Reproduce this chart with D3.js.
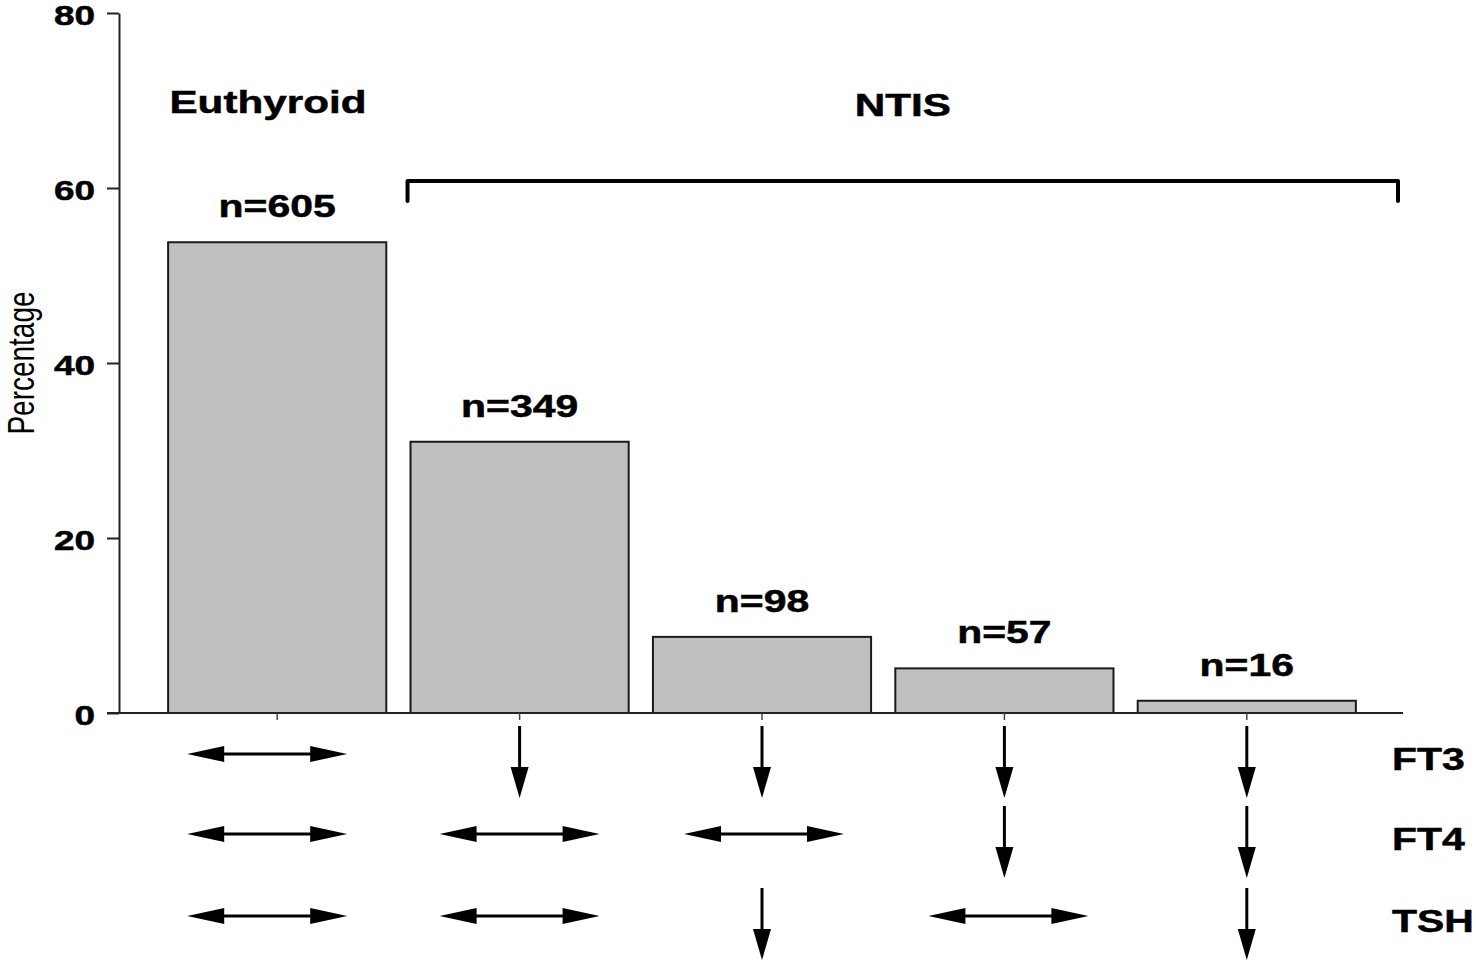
<!DOCTYPE html>
<html>
<head>
<meta charset="utf-8">
<script src="https://cdn.jsdelivr.net/npm/d3@7"></script>
<style>
  body { margin: 0; background: #fff; }
  svg { display: block; }
  text { font-family: "Liberation Sans", Arial, sans-serif; fill: #000; }
  text.heavy { stroke: #000; stroke-width: 0.5px; }
</style>
</head>
<body>
<svg id="chart" width="1476" height="960"></svg>
<script>
// data
const groups = ["Euthyroid", "NTIS a", "NTIS b", "NTIS c", "NTIS d"];
const counts = [605, 349, 98, 57, 16];
const percents = [53.8, 31.0, 8.7, 5.1, 1.4];
const yTicks = [0, 20, 40, 60, 80];
const hormones = ["FT3", "FT4", "TSH"];
// "n" = normal (double arrow), "d" = decreased (down arrow)
const ft3State = ["n", "d", "d", "d", "d"];
const ft4State = ["n", "n", "n", "d", "d"];
const tshState = ["n", "n", "d", "n", "d"];

const SX = 1.32;   // the picture is stretched sideways, text too

const svg = d3.select("#chart");

const x = d3.scaleBand().domain(groups).range([156, 1368])
	.paddingInner(0.1).paddingOuter(0.05);
const y = d3.scaleLinear().domain([0, 80]).range([713, 13]);

//----------------------------------- bars
svg.append("g").selectAll("rect")
	.data(groups)
	.join("rect")
	.attr("x", d => x(d))
	.attr("y", (d, i) => y(percents[i]))
	.attr("width", x.bandwidth())
	.attr("height", (d, i) => y(0) - y(percents[i]))
	.attr("fill", "#c0c0c0")
	.attr("stroke", "#1a1a1a")
	.attr("stroke-width", 2);

//----------------------------------- y axis
const yAxis = svg.append("g")
	.attr("transform", "translate(119,0)")
	.call(d3.axisLeft(y).tickValues(yTicks).tickSize(12).tickSizeOuter(0).tickPadding(12));
yAxis.select(".domain").attr("stroke", "#222").attr("stroke-width", 2);
yAxis.selectAll(".tick line").attr("stroke", "#222").attr("stroke-width", 2);
yAxis.selectAll(".tick text")
	.attr("x", null).attr("dy", "0.42em")
	.attr("class", "heavy")
	.attr("transform", "translate(-24,0) scale(" + SX + ",1)")
	.style("font-size", "28px").style("font-weight", "bold")
	.style("font-family", "'Liberation Sans', Arial, sans-serif");

svg.append("text")
	.attr("transform", "translate(34," + y(40) + ") rotate(-90) scale(1," + SX + ")")
	.attr("text-anchor", "middle")
	.style("font-size", "28px")
	.text("Percentage");

//----------------------------------- x axis (line + small ticks at bar centres)
svg.append("line")
	.attr("x1", 107).attr("x2", 1403)
	.attr("y1", y(0)).attr("y2", y(0))
	.attr("stroke", "#222").attr("stroke-width", 2);

svg.append("g").selectAll("line")
	.data(groups)
	.join("line")
	.attr("x1", d => x(d) + x.bandwidth() / 2)
	.attr("x2", d => x(d) + x.bandwidth() / 2)
	.attr("y1", y(0)).attr("y2", y(0) + 7)
	.attr("stroke", "#444").attr("stroke-width", 1.5);

//----------------------------------- n= labels
svg.append("g").selectAll("text")
	.data(groups)
	.join("text")
	.attr("class", "heavy")
	.attr("transform", (d, i) => "translate(" + (x(d) + x.bandwidth() / 2) + "," + (y(percents[i]) - 25) + ") scale(" + SX + ",1)")
	.attr("text-anchor", "middle")
	.style("font-size", "31px").style("font-weight", "bold")
	.text((d, i) => "n=" + counts[i]);

//----------------------------------- group headings + bracket
svg.append("text")
	.attr("class", "heavy")
	.attr("transform", "translate(268,113) scale(" + SX + ",1)")
	.attr("text-anchor", "middle")
	.style("font-size", "32px").style("font-weight", "bold")
	.text("Euthyroid");

const brL = x(groups[1]) - 3, brR = 1398;
svg.append("path")
	.attr("d", "M" + brL + ",201 V181 H" + brR + " V201")
	.attr("fill", "none")
	.attr("stroke", "#000").attr("stroke-width", 4)
	.attr("stroke-linecap", "round").attr("stroke-linejoin", "round");

svg.append("text")
	.attr("class", "heavy")
	.attr("transform", "translate(" + ((brL + brR) / 2) + ",116) scale(" + SX + ",1)")
	.attr("text-anchor", "middle")
	.style("font-size", "32px").style("font-weight", "bold")
	.text("NTIS");

//----------------------------------- hormone arrows
const rowY = [754, 834, 916];
const arrowShift = [-10, 0, 2, 4, 0];   // sideways nudge of each column's arrows
const states = [ft3State, ft4State, tshState];

function hArrow(g, cx, cy) {
	const half = 80, hl = 37, hw = 8;
	g.append("line")
		.attr("x1", cx - half + hl - 2).attr("x2", cx + half - hl + 2)
		.attr("y1", cy).attr("y2", cy)
		.attr("stroke", "#000").attr("stroke-width", 3);
	g.append("path")
		.attr("d", "M" + (cx - half) + "," + cy + " L" + (cx - half + hl) + "," + (cy - hw) + " V" + (cy + hw) + " Z" +
			" M" + (cx + half) + "," + cy + " L" + (cx + half - hl) + "," + (cy - hw) + " V" + (cy + hw) + " Z")
		.attr("fill", "#000");
}

function vArrow(g, cx, cy) {
	const top = cy - 28, tip = cy + 44, hl = 31, hw = 9;
	g.append("line")
		.attr("x1", cx).attr("x2", cx)
		.attr("y1", top).attr("y2", tip - hl + 2)
		.attr("stroke", "#000").attr("stroke-width", 3);
	g.append("path")
		.attr("d", "M" + cx + "," + tip + " L" + (cx - hw) + "," + (tip - hl) + " H" + (cx + hw) + " Z")
		.attr("fill", "#000");
}

const arrows = svg.append("g");
hormones.forEach((h, r) => {
	groups.forEach((gName, i) => {
		const cx = x(gName) + x.bandwidth() / 2;
		if (states[r][i] === "n")
			hArrow(arrows, cx + arrowShift[i], rowY[r]);
		else
			vArrow(arrows, cx, rowY[r]);
	});
	svg.append("text")
		.attr("class", "heavy")
		.attr("transform", "translate(1392," + (rowY[r] + 5) + ") scale(" + SX + ",1)")
		.attr("dy", "0.36em")
		.style("font-size", "31px").style("font-weight", "bold")
		.text(h);
});
</script>
</body>
</html>
